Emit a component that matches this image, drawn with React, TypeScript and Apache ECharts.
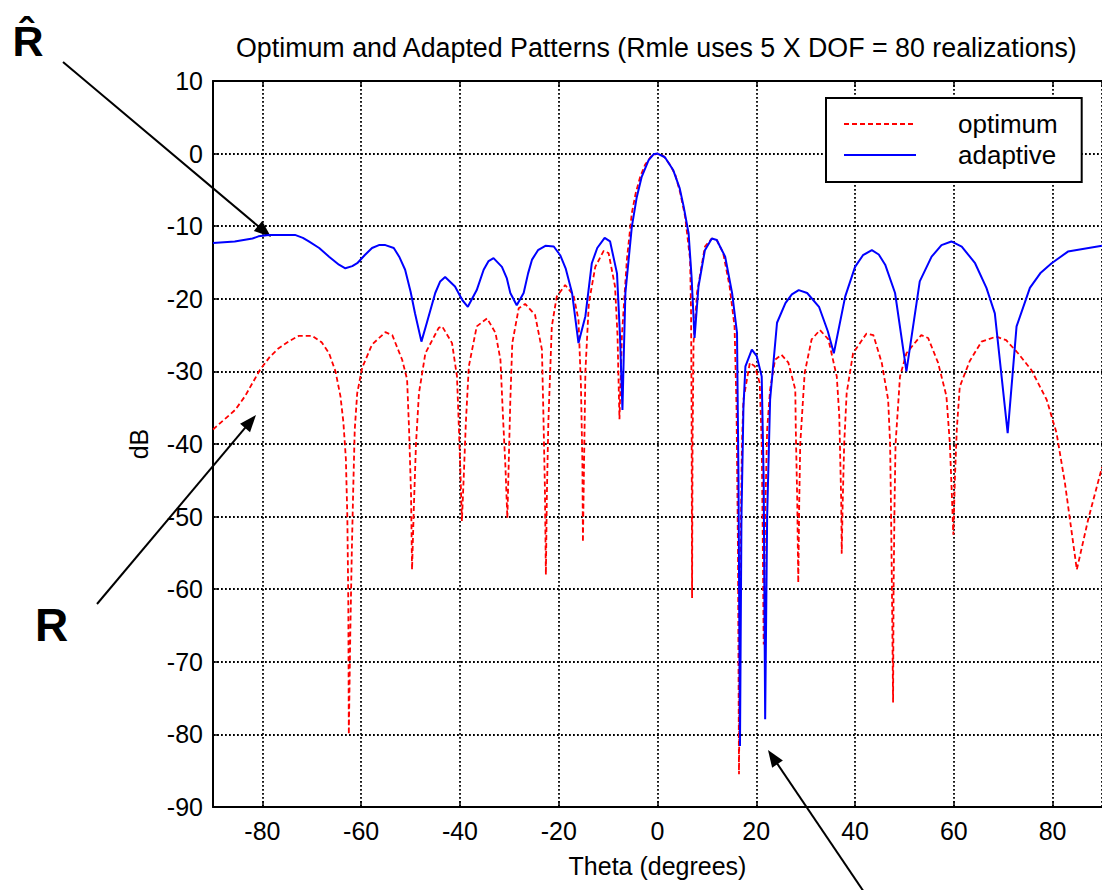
import React, { useEffect, useRef } from "react";
import * as echarts from "echarts";

const chartTitle = "Optimum and Adapted Patterns (Rmle uses 5 X DOF = 80 realizations)";
const xAxisName = "Theta (degrees)";
const yAxisName = "dB";
const seriesNames = ["optimum", "adaptive"];
const annotationLabels = ["R\u0302", "R"];

// [theta (deg), dB]
const optimumPattern: [number, number][] = [
  [-90, -38.0], [-87.5, -36.5], [-85.5, -35.3], [-83.5, -33.4], [-80.5, -29.8], [-78.5, -28.0],
  [-76.7, -26.8], [-74.5, -25.8], [-72.6, -25.1], [-69.9, -25.1], [-68.0, -26.0], [-66.5, -27.5],
  [-65.2, -30.0], [-64.2, -33.4], [-63.6, -37], [-63.1, -42], [-62.8, -50], [-62.6, -62],
  [-62.5, -80], [-62.2, -66], [-61.9, -55], [-61.6, -46], [-61.3, -38], [-60.8, -33],
  [-59.8, -29.5], [-57.8, -26.3], [-55.1, -24.6], [-53.7, -25.0], [-51.7, -28.4], [-50.7, -31.1],
  [-50.3, -38], [-49.9, -47], [-49.7, -57.3], [-49.3, -48], [-48.9, -40], [-48.3, -33.0],
  [-47.0, -27.5], [-44.3, -24.0], [-43.6, -23.8], [-41.6, -26.1], [-40.6, -30.7], [-40.2, -38],
  [-39.9, -44], [-39.6, -50.6], [-39.2, -44], [-38.8, -37], [-38.2, -29.3], [-36.6, -23.8],
  [-34.5, -22.7], [-32.8, -24.7], [-31.8, -28.4], [-31.3, -36], [-30.8, -43], [-30.4, -50.2],
  [-30.1, -42], [-29.8, -34], [-29.4, -26.1], [-28.1, -21.3], [-26.8, -20.7], [-24.8, -22.2],
  [-23.4, -27.0], [-23.1, -36], [-22.8, -46], [-22.6, -58.0], [-22.4, -47], [-22.1, -37],
  [-21.4, -23.8], [-20.4, -19.7], [-18.7, -18.1], [-17.0, -19.5], [-16.0, -22.9], [-15.5, -32],
  [-15.2, -43], [-15.1, -53.5], [-14.9, -44], [-14.6, -30], [-13.9, -20.6], [-12.6, -15.6],
  [-10.9, -13.4], [-9.9, -13.7], [-8.6, -18.3], [-8.1, -25], [-7.7, -36.6], [-7.2, -25],
  [-6.2, -14.6], [-5.2, -8.2], [-4.4, -5.4], [-3.5, -3.2], [-2.5, -1.5], [-1.2, -0.3],
  [0, 0], [1.2, -0.3], [2.5, -1.5], [3.6, -2.9], [4.6, -5.4], [5.6, -8.7],
  [6.6, -14.6], [6.8, -22], [6.9, -35], [7.0, -61.2], [7.1, -40], [7.3, -26],
  [8.0, -19.2], [9.6, -12.8], [11.0, -11.7], [12.0, -11.9], [13.3, -13.7], [14.6, -18.3],
  [15.6, -23.8], [16.0, -35], [16.3, -55], [16.5, -85.5], [16.8, -55], [17.1, -40],
  [17.4, -33.9], [18.7, -28.8], [19.7, -29.3], [20.7, -31.6], [21.1, -40], [21.3, -52],
  [21.5, -67.6], [21.8, -50], [22.2, -38], [22.8, -32.5], [23.8, -28.4], [25.1, -27.7],
  [26.5, -28.8], [27.9, -32.5], [28.0, -38], [28.3, -48], [28.5, -59.1], [28.7, -48],
  [28.9, -40], [29.8, -30.2], [31.2, -25.6], [32.9, -24.3], [34.6, -25.6], [36.3, -30.7],
  [36.8, -36], [37.0, -42], [37.2, -48], [37.3, -55.1], [37.5, -48], [37.8, -40],
  [38.3, -33.0], [39.6, -27.5], [42.3, -24.8], [43.7, -25.0], [45.4, -28.8], [46.7, -33.9],
  [47.1, -40], [47.3, -50], [47.5, -62], [47.7, -75.6], [47.8, -60], [48.0, -48],
  [48.2, -40], [49.1, -30.7], [50.4, -27.5], [53.4, -25.0], [54.8, -25.4], [56.8, -28.8],
  [58.5, -33.4], [59.2, -40], [59.6, -47], [59.9, -52.5], [60.2, -45], [60.6, -38],
  [61.2, -32.1], [63.2, -28.6], [65.6, -25.9], [68.6, -25.2], [70.6, -25.7], [73.0, -27.5],
  [75.7, -29.8], [78.8, -33.9], [80.8, -38.5], [82.5, -45.4], [84.9, -57.3], [87.2, -50.4],
  [90, -43.2],
];

const adaptivePattern: [number, number][] = [
  [-90, -12.3], [-85.6, -12.1], [-82, -11.7], [-80.8, -11.4], [-78.7, -11.2], [-73.4, -11.2],
  [-71.8, -11.6], [-70.6, -12.1], [-68.5, -13.0], [-66.5, -14.2], [-64.5, -15.3], [-63.2, -15.8],
  [-61.8, -15.5], [-60.8, -15.1], [-59.3, -14.0], [-57.8, -13.0], [-56.4, -12.6], [-55.1, -12.6],
  [-53.4, -13.0], [-52.3, -14.2], [-51.1, -16.0], [-50.0, -19.0], [-49.1, -22.0], [-47.8, -25.9],
  [-46.7, -23.3], [-45.0, -19.2], [-44.0, -17.6], [-43.0, -17.0], [-41.0, -18.3], [-39.5, -20.2],
  [-38.4, -21.1], [-36.6, -18.8], [-35.2, -16.0], [-34.2, -14.8], [-33.2, -14.4], [-31.5, -15.6],
  [-30.5, -17.2], [-29.8, -19.2], [-28.5, -20.9], [-27.1, -19.2], [-26.2, -16.5], [-25.4, -14.6],
  [-24.2, -13.3], [-22.7, -12.7], [-21.0, -12.8], [-19.7, -14.0], [-18.6, -15.8], [-17.3, -19.2],
  [-16.0, -26.1], [-14.6, -22.4], [-13.3, -15.1], [-12.2, -13.0], [-10.7, -11.6], [-9.6, -12.1],
  [-8.2, -16.5], [-7.6, -25], [-7.1, -35.3], [-6.8, -27], [-6.5, -19.2], [-5.2, -10.1],
  [-4.2, -6.0], [-3.2, -3.2], [-1.8, -0.9], [-0.8, -0.1], [0, 0], [1.5, -0.5],
  [3.2, -2.3], [4.5, -4.8], [5.3, -7.3], [6.3, -11.0], [6.9, -17], [7.5, -25.4],
  [8.3, -18.3], [9.6, -13.3], [11.0, -11.7], [12.0, -11.9], [13.7, -14.2], [15.1, -19.2],
  [16.1, -24.7], [16.4, -45], [16.7, -81.6], [17.0, -50], [17.4, -35], [17.8, -29.3],
  [19.1, -27.0], [20.1, -27.9], [21.1, -30.7], [21.5, -45], [21.8, -77.9], [22.2, -50],
  [22.8, -33.9], [24.2, -23.3], [25.9, -20.6], [27.2, -19.4], [28.6, -18.8], [30.3, -19.2],
  [32.7, -21.1], [34.5, -24.5], [35.7, -27.5], [38.0, -19.7], [40.0, -15.6], [41.6, -14.0],
  [43.4, -13.3], [44.8, -13.9], [46.1, -15.3], [48.1, -19.2], [50.4, -30.0], [53.1, -17.6],
  [55.5, -14.2], [57.5, -12.6], [59.5, -12.1], [61.6, -12.8], [64.3, -15.1], [66.6, -18.5],
  [68.3, -22.0], [70.9, -38.5], [72.7, -23.8], [75.4, -18.5], [77.6, -16.4], [79.8, -15.1],
  [83.1, -13.5], [90, -12.7],
];

const FONT = "'Liberation Sans', Arial, Helvetica, sans-serif";

function arrow(tail: [number, number], tip: [number, number], len = 17, half = 6.5) {
  const dx = tip[0] - tail[0];
  const dy = tip[1] - tail[1];
  const d = Math.sqrt(dx * dx + dy * dy);
  const ux = dx / d;
  const uy = dy / d;
  const bx = tip[0] - ux * len;
  const by = tip[1] - uy * len;
  return [
    {
      type: "line",
      shape: { x1: tail[0], y1: tail[1], x2: bx + ux * 2, y2: by + uy * 2 },
      style: { stroke: "#000", lineWidth: 2 },
      silent: true,
    },
    {
      type: "polygon",
      shape: {
        points: [
          [tip[0], tip[1]],
          [bx - uy * half, by + ux * half],
          [bx + uy * half, by - ux * half],
        ],
      },
      style: { fill: "#000" },
      silent: true,
    },
  ];
}

export default function App() {
  const ref = useRef<HTMLDivElement>(null);

  useEffect(() => {
    if (!ref.current) return;
    const chart = echarts.init(ref.current, undefined, { renderer: "svg" });

    const axisCommon = {
      type: "value",
      axisLine: { show: true, onZero: false, lineStyle: { color: "#000", width: 2 } },
      axisTick: { show: true, inside: true, length: 6, lineStyle: { color: "#000", width: 1.5 } },
      axisLabel: { color: "#000", fontSize: 25, fontFamily: FONT },
      splitLine: { show: true, lineStyle: { color: "#000", width: 1.8, type: [1.8, 2.2] } },
      nameTextStyle: { color: "#000", fontSize: 25, fontFamily: FONT },
    };

    chart.setOption({
      animation: false,
      backgroundColor: "#fff",
      textStyle: { fontFamily: FONT },
      title: {
        text: chartTitle,
        left: 236,
        top: 34,
        padding: 0,
        textStyle: { fontSize: 26.8, fontWeight: "normal", color: "#000", fontFamily: FONT },
      },
      grid: { left: 213, top: 81, right: 0, bottom: 83, containLabel: false },
      legend: {
        orient: "vertical",
        left: 826,
        top: 98,
        padding: [13, 24, 14, 17],
        itemWidth: 72,
        itemHeight: 14,
        itemGap: 5,
        backgroundColor: "#fff",
        borderColor: "#000",
        borderWidth: 2,
        itemStyle: { color: "rgba(0,0,0,0)", borderWidth: 0, opacity: 0 },
        textStyle: { fontSize: 26, color: "#000", fontFamily: FONT, lineHeight: 25, padding: [0, 0, 0, 37] },
        data: seriesNames,
      },
      xAxis: [
        {
          ...axisCommon,
          position: "bottom",
          min: -90,
          max: 90,
          splitNumber: 9,
          name: xAxisName,
          nameLocation: "middle",
          nameGap: 46,
          axisLabel: {
            ...axisCommon.axisLabel,
            margin: 11,
            showMinLabel: false,
            showMaxLabel: false,
            formatter: (v: number) => (Math.abs(v) === 90 ? "" : String(v)),
          },
        },
        {
          ...axisCommon,
          position: "top",
          min: -90,
          max: 90,
          splitNumber: 9,
          axisLabel: { show: false },
          splitLine: { show: false },
        },
      ],
      yAxis: {
        ...axisCommon,
        min: -90,
        max: 10,
        interval: 10,
        name: yAxisName,
        nameLocation: "middle",
        nameGap: 62,
        axisLabel: { ...axisCommon.axisLabel, margin: 10 },
      },
      series: [
        {
          name: seriesNames[0],
          type: "line",
          data: optimumPattern,
          showSymbol: false,
          symbol: "none",
          clip: true,
          lineStyle: { color: "#ff0000", width: 1.8, type: [5, 3] },
          itemStyle: { color: "#ff0000" },
          z: 2,
        },
        {
          name: seriesNames[1],
          type: "line",
          data: adaptivePattern,
          showSymbol: false,
          symbol: "none",
          clip: true,
          lineStyle: { color: "#0000ff", width: 2 },
          itemStyle: { color: "#0000ff" },
          z: 3,
        },
      ],
      graphic: [
        {
          type: "text",
          x: 28,
          y: 41,
          style: {
            text: annotationLabels[0],
            fontSize: 43,
            fontWeight: "bold",
            fontFamily: FONT,
            fill: "#000",
            align: "center",
            verticalAlign: "middle",
          },
          silent: true,
        },
        {
          type: "text",
          x: 51.5,
          y: 625,
          style: {
            text: annotationLabels[1],
            fontSize: 46,
            fontWeight: "bold",
            fontFamily: FONT,
            fill: "#000",
            align: "center",
            verticalAlign: "middle",
          },
          silent: true,
        },
        ...arrow([63, 62], [271, 237]),
        ...arrow([97, 604], [256, 415]),
        ...arrow([866, 895], [768, 750]),
      ],
    });

    return () => chart.dispose();
  }, []);

  return (
    <div
      ref={ref}
      style={{ position: "absolute", left: 0, top: 0, width: 1102, height: 890, background: "#fff" }}
    />
  );
}
